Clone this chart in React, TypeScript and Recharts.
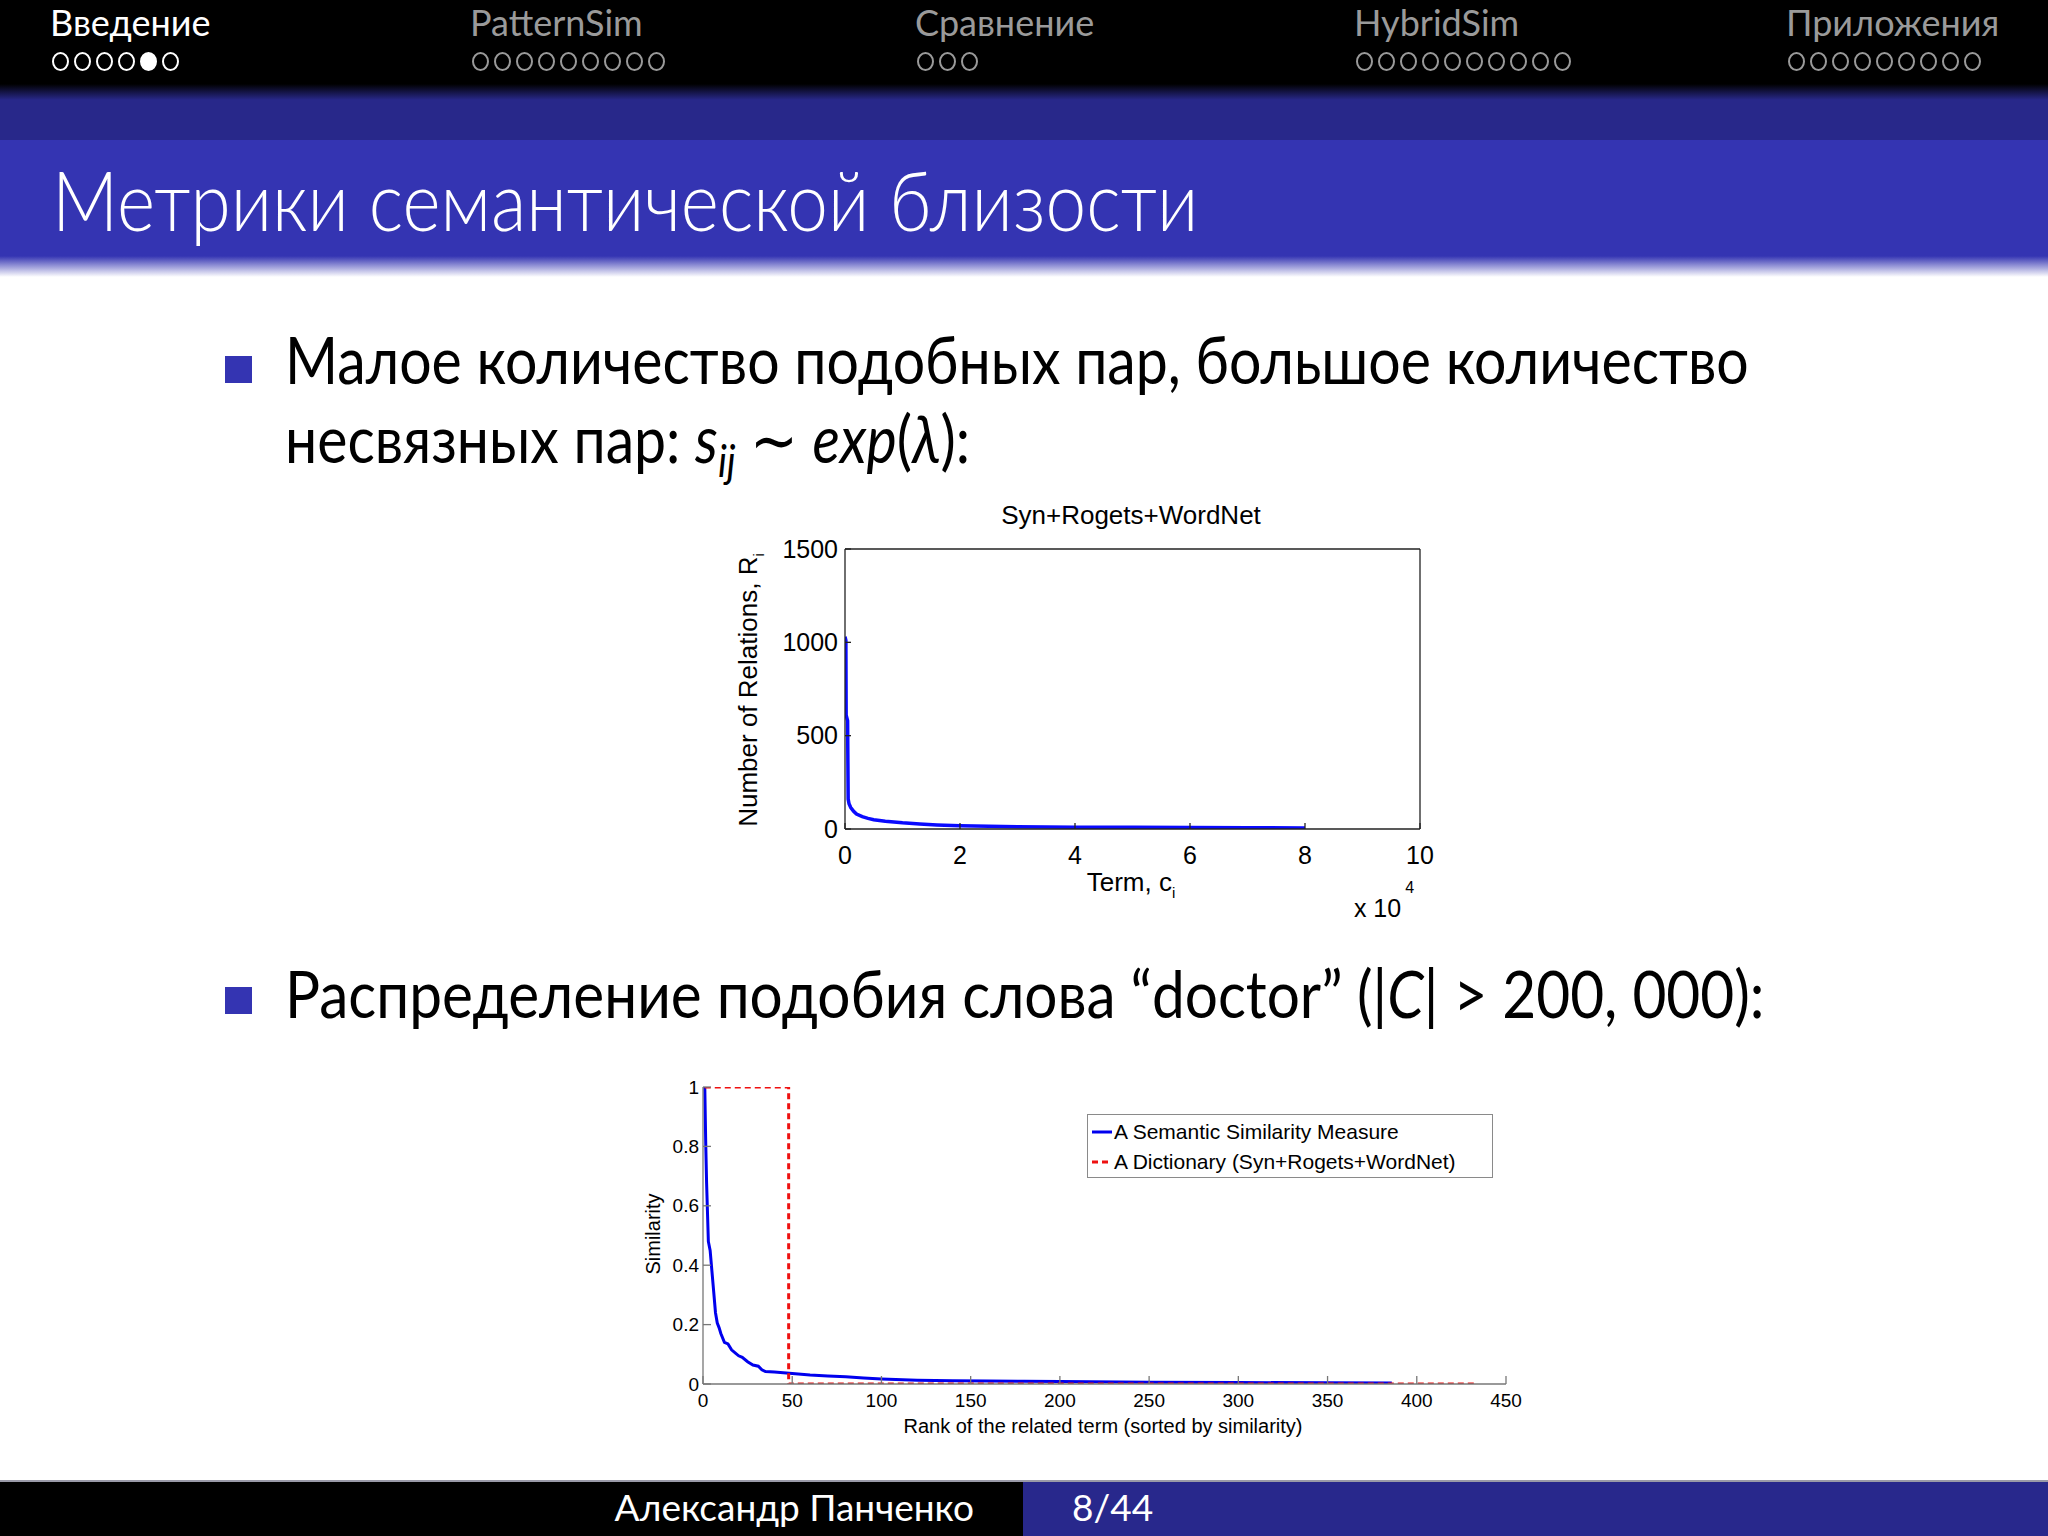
import React from "react";
import { LineChart, Line, XAxis, YAxis, Legend } from "recharts";

// --- chart 1: Syn+Rogets+WordNet (term index in units of 10^4) ---
const termIdx = [0, 0.015, 0.02, 0.045, 0.055, 0.07, 0.1, 0.15, 0.2, 0.3, 0.4, 0.5, 0.7, 1, 1.3, 1.6, 2, 2.5, 3, 4, 5, 6, 7, 8];
const relCount = [1030, 1010, 610, 580, 160, 135, 115, 95, 80, 66, 57, 50, 42, 33, 27, 22, 18, 15, 12, 10, 9, 8, 7, 6];
const xTicks1 = [0, 2, 4, 6, 8, 10];
const yTicks1 = [0, 500, 1000, 1500];

// --- chart 2: similarity of "doctor" ---
const rank = [1, 1.5, 2, 2.5, 3, 4, 5, 6, 7, 8, 9, 10, 12, 14, 16, 18, 20, 22, 25, 28, 31, 33, 35, 40, 45, 50, 60, 70, 80, 90, 100, 120, 140, 160, 180, 200, 250, 300, 350, 386];
const simMeasure = [1.0, 0.82, 0.68, 0.58, 0.48, 0.45, 0.38, 0.31, 0.24, 0.205, 0.19, 0.17, 0.14, 0.135, 0.115, 0.105, 0.095, 0.09, 0.075, 0.064, 0.06, 0.048, 0.042, 0.04, 0.038, 0.035, 0.03, 0.027, 0.024, 0.02, 0.017, 0.013, 0.011, 0.01, 0.009, 0.008, 0.006, 0.005, 0.004, 0.003];
const dictRank = [1, 48, 48, 434];
const dictSim = [1, 1, 0, 0];
const xTicks2 = [0, 50, 100, 150, 200, 250, 300, 350, 400, 450];
const yTicks2 = [0, 0.2, 0.4, 0.6, 0.8, 1];
const seriesNames = ["A Semantic Similarity Measure", "A Dictionary (Syn+Rogets+WordNet)"];

// --- slide navigation ---
const sections = ["Введение", "PatternSim", "Сравнение", "HybridSim", "Приложения"];
const sectionFrames = [6, 9, 3, 10, 9];
const sectionX = [50, 470, 915, 1354, 1786];

const relData = termIdx.map((x, i) => ({ x, y: relCount[i] }));
const simData = rank.map((x, i) => ({ x, y: simMeasure[i] }));
const dictData = dictRank.map((x, i) => ({ x, y: dictSim[i] }));

const PLOT_FONT = "'Liberation Sans', Arial, sans-serif";
const SLIDE_FONT = "Lato, 'Liberation Sans', sans-serif";

function XTick(props: any) {
  const { x, y, payload, len, gap, color, size, weight } = props;
  return (
    <g>
      <line x1={x} x2={x} y1={y - gap} y2={y - gap - len} stroke={color} strokeWidth={1.3} />
      <text x={x} y={y} dy="0.71em" textAnchor="middle" fontSize={size} fontWeight={weight} fontFamily={PLOT_FONT} fill="#000">
        {payload.value}
      </text>
    </g>
  );
}

function YTick(props: any) {
  const { x, y, payload, len, gap, color, size, weight } = props;
  return (
    <g>
      <line x1={x + gap} x2={x + gap + len} y1={y} y2={y} stroke={color} strokeWidth={1.3} />
      <text x={x} y={y} dy="0.35em" textAnchor="end" fontSize={size} fontWeight={weight} fontFamily={PLOT_FONT} fill="#000">
        {payload.value}
      </text>
    </g>
  );
}

function DictLegend(props: any) {
  const items = [...(props.payload || [])].sort(
    (a: any, b: any) => seriesNames.indexOf(a.value) - seriesNames.indexOf(b.value)
  );
  return (
    <div style={{ border: "1.5px solid #8a8a8a", background: "#fff", padding: "2px 0 0 2px", fontFamily: PLOT_FONT, fontSize: 21, color: "#000", boxSizing: "border-box", height: 64 }}>
      {items.map((it: any, i: number) => (
        <div key={i} style={{ display: "flex", alignItems: "center", height: 30 }}>
          <svg width={24} height={10}>
            <line x1={2} x2={22} y1={5} y2={5} stroke={it.color} strokeWidth={3} strokeDasharray={it.payload?.strokeDasharray} />
          </svg>
          <span>{it.value}</span>
        </div>
      ))}
    </div>
  );
}

function Abs({ x, y, children, style }: any) {
  return <div style={{ position: "absolute", left: x, top: y, whiteSpace: "nowrap", ...style }}>{children}</div>;
}

function Squeeze({ k, children }: any) {
  return <span style={{ display: "inline-block", transform: `scaleX(${k})`, transformOrigin: "left center" }}>{children}</span>;
}

export default function App() {
  return (
    <div style={{ position: "absolute", left: 0, top: 0, width: 2048, height: 1536, background: "#fff", overflow: "hidden" }}>
      {/* header */}
      <div style={{ position: "absolute", left: 0, top: 0, width: 2048, height: 140, background: "linear-gradient(to bottom, #000 0px, #000 84px, #28288a 100px, #28288a 140px)" }} />
      <div style={{ position: "absolute", left: 0, top: 140, width: 2048, height: 137, background: "linear-gradient(to bottom, #3434b2 0px, #3434b2 116px, #fff 137px)" }} />
      {sections.map((s, i) => (
        <React.Fragment key={s}>
          <Abs x={sectionX[i]} y={0} style={{ fontFamily: SLIDE_FONT, fontSize: 36, color: i === 0 ? "#fff" : "#9a9a9a" }}>
            {s}
          </Abs>
          <Abs x={sectionX[i] + 2} y={52} style={{ display: "flex", gap: 5 }}>
            {Array.from({ length: sectionFrames[i] }).map((_, j) => (
              <div key={j} style={{ width: 13, height: 15, borderRadius: "50%", border: `2px solid ${i === 0 ? "#fff" : "#9a9a9a"}`, background: i === 0 && j === 4 ? "#fff" : "transparent" }} />
            ))}
          </Abs>
        </React.Fragment>
      ))}
      <Abs x={52} y={150} style={{ fontFamily: SLIDE_FONT, fontWeight: 300, fontSize: 82, color: "#fff" }}>
        <Squeeze k={0.89}>Метрики семантической близости</Squeeze>
      </Abs>

      {/* bullet 1 */}
      <div style={{ position: "absolute", left: 225, top: 356, width: 27, height: 27, background: "#3434b2" }} />
      <Abs x={285} y={320} style={{ fontFamily: SLIDE_FONT, fontSize: 65, color: "#000" }}>
        <Squeeze k={0.88}>Малое количество подобных пар, большое количество</Squeeze>
      </Abs>
      <Abs x={285} y={399} style={{ fontFamily: SLIDE_FONT, fontSize: 65, color: "#000" }}>
        <Squeeze k={0.88}>
          несвязных пар: <i>s</i><sub style={{ fontSize: 44, fontStyle: "italic" }}>ij</sub> ∼ <i>exp</i>(<i>λ</i>):
        </Squeeze>
      </Abs>

      {/* chart 1 */}
      <Abs x={1131} y={515} style={{ transform: "translate(-50%, -50%)", fontFamily: PLOT_FONT, fontSize: 26, color: "#000" }}>
        Syn+Rogets+WordNet
      </Abs>
      <Abs x={750} y={690} style={{ transform: "translate(-50%, -50%) rotate(-90deg)", fontFamily: PLOT_FONT, fontSize: 26, color: "#000" }}>
        Number of Relations, R<sub style={{ fontSize: 15 }}>i</sub>
      </Abs>
      <Abs x={1131} y={884} style={{ transform: "translate(-50%, -50%)", fontFamily: PLOT_FONT, fontSize: 26, color: "#000" }}>
        Term, c<sub style={{ fontSize: 15 }}>i</sub>
      </Abs>
      <Abs x={1384} y={908} style={{ transform: "translate(-50%, -50%)", fontFamily: PLOT_FONT, fontSize: 25, color: "#000" }}>
        x 10<sup style={{ fontSize: 16, position: "relative", top: -14, marginLeft: 4 }}>4</sup>
      </Abs>
      <div style={{ position: "absolute", left: 720, top: 490 }}>
        <LineChart width={740} height={440} margin={{ top: 59, right: 40, bottom: 61, left: 65 }}>
          <XAxis xAxisId="b" dataKey="x" type="number" domain={[0, 10]} ticks={xTicks1} allowDataOverflow height={40}
            tickLine={false} tickSize={0} tickMargin={17} axisLine={{ stroke: "#222", strokeWidth: 1.3 }}
            tick={(p: any) => <XTick {...p} len={6} gap={17} color="#222" size={25} weight={500} />} />
          <XAxis xAxisId="t" orientation="top" mirror type="number" domain={[0, 10]} ticks={xTicks1} allowDataOverflow
            tick={false} tickSize={6} tickLine={{ stroke: "#222", strokeWidth: 1.3 }} axisLine={{ stroke: "#222", strokeWidth: 1.3 }} />
          <YAxis yAxisId="l" type="number" domain={[0, 1500]} ticks={yTicks1} allowDataOverflow width={60}
            tickLine={false} tickSize={0} tickMargin={7} axisLine={{ stroke: "#222", strokeWidth: 1.3 }}
            tick={(p: any) => <YTick {...p} len={6} gap={7} color="#222" size={25} weight={500} />} />
          <YAxis yAxisId="r" orientation="right" mirror type="number" domain={[0, 1500]} ticks={yTicks1} allowDataOverflow
            tick={false} tickSize={6} tickLine={{ stroke: "#222", strokeWidth: 1.3 }} axisLine={{ stroke: "#222", strokeWidth: 1.3 }} />
          <Line xAxisId="b" yAxisId="l" data={relData} dataKey="y" type="linear" stroke="#0a0aff" strokeWidth={3.5} dot={false} isAnimationActive={false} />
        </LineChart>
      </div>

      {/* bullet 2 */}
      <div style={{ position: "absolute", left: 225, top: 987, width: 27, height: 27, background: "#3434b2" }} />
      <Abs x={285} y={954} style={{ fontFamily: SLIDE_FONT, fontSize: 65, color: "#000" }}>
        <Squeeze k={0.9}>
          Распределение подобия слова “doctor” (|<i>C</i>| &gt; 200, 000):
        </Squeeze>
      </Abs>

      {/* chart 2 */}
      <Abs x={653} y={1234} style={{ transform: "translate(-50%, -50%) rotate(-90deg)", fontFamily: PLOT_FONT, fontSize: 20, color: "#000" }}>
        Similarity
      </Abs>
      <Abs x={1103} y={1426} style={{ transform: "translate(-50%, -50%)", fontFamily: PLOT_FONT, fontSize: 20, color: "#000" }}>
        Rank of the related term (sorted by similarity)
      </Abs>
      <div style={{ position: "absolute", left: 640, top: 1070 }}>
        <LineChart width={900} height={380} margin={{ top: 17, right: 34, bottom: 30, left: 13 }}>
          <XAxis dataKey="x" type="number" domain={[0, 450]} ticks={xTicks2} allowDataOverflow height={36}
            tickLine={false} tickSize={0} tickMargin={10} axisLine={{ stroke: "#777", strokeWidth: 1.3 }}
            tick={(p: any) => <XTick {...p} len={8} gap={10} color="#777" size={19} weight={400} />} />
          <YAxis type="number" domain={[0, 1]} ticks={yTicks2} allowDataOverflow width={50}
            tickLine={false} tickSize={0} tickMargin={4} axisLine={{ stroke: "#777", strokeWidth: 1.3 }}
            tick={(p: any) => <YTick {...p} len={8} gap={4} color="#777" size={19} weight={400} />} />
          <Legend layout="horizontal" verticalAlign="middle" align="center" content={DictLegend}
            wrapperStyle={{ left: 447, top: 44, width: 406 }} />
          <Line data={simData} dataKey="y" name={seriesNames[0]} type="linear" stroke="#0000ee" strokeWidth={3} dot={false} isAnimationActive={false} />
          <Line data={dictData} dataKey="y" name={seriesNames[1]} type="linear" stroke="#ee1111" strokeWidth={3} strokeDasharray="6 4" dot={false} isAnimationActive={false} />
        </LineChart>
      </div>

      {/* footer */}
      <div style={{ position: "absolute", left: 0, top: 1480, width: 2048, height: 2, background: "#9a9aa8" }} />
      <div style={{ position: "absolute", left: 0, top: 1482, width: 1023, height: 54, background: "#000" }} />
      <div style={{ position: "absolute", left: 1023, top: 1482, width: 1025, height: 54, background: "#28288c" }} />
      <Abs x={0} y={1484} style={{ width: 974, textAlign: "right", fontFamily: SLIDE_FONT, fontSize: 37, color: "#fff" }}>
        Александр Панченко
      </Abs>
      <Abs x={1072} y={1484} style={{ fontFamily: SLIDE_FONT, fontSize: 37, color: "#fff" }}>
        8/44
      </Abs>
    </div>
  );
}
